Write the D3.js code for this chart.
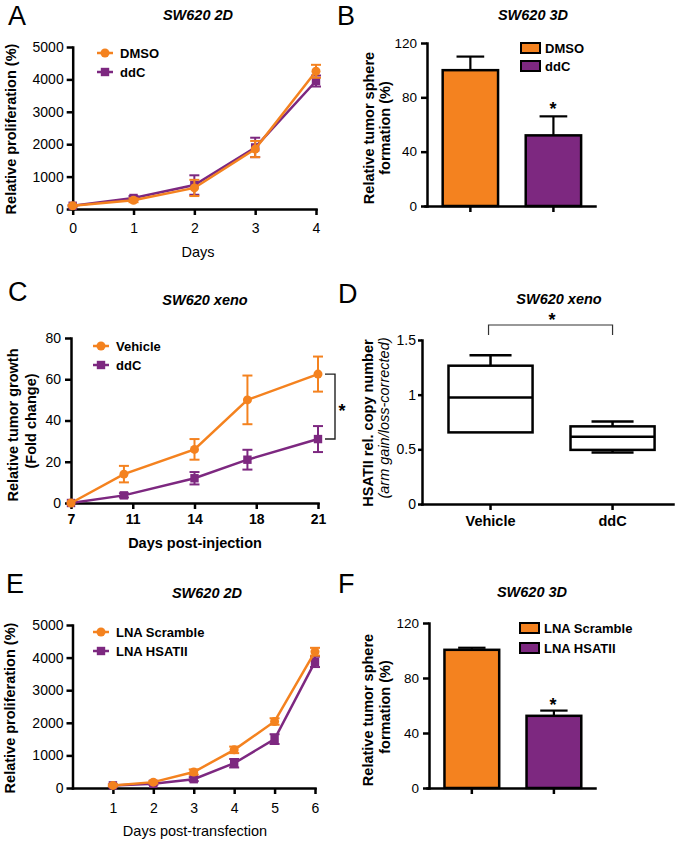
<!DOCTYPE html>
<html><head><meta charset="utf-8">
<script src="https://cdn.jsdelivr.net/npm/d3@7"></script>
<style>body{margin:0;background:#fff} svg text{font-family:"Liberation Sans",Arial,Helvetica,sans-serif}</style>
</head><body><svg id="c" width="678" height="842"></svg>
<script>
// ---------- DATA ----------
// Panel A
const daysA = [0, 1, 2, 3, 4];
const dmsoA = [100, 270, 650, 1850, 4250];
const dmsoAErr = [20, 60, 250, 250, 200];
const ddcA = [100, 340, 740, 1900, 3950];
const ddcAErr = [20, 60, 300, 300, 170];
const yTicksA = [0, 1000, 2000, 3000, 4000, 5000];
// Panel B
const groupsB = ["DMSO", "ddC"];
const meansB = [100, 52];
const errB = [10, 14];
const yTicksB = [0, 40, 80, 120];
// Panel C
const daysC = [7, 10, 14, 17, 21];
const vehicleC = [0, 14, 26, 50, 62.5];
const vehicleCErr = [0, 4, 5, 11.8, 8.5];
const ddcC = [0, 3.7, 12, 21, 31];
const ddcCErr = [0, 1, 3, 4.8, 6.3];
const xTicksC = [7, 10.5, 14, 17.5, 21];
const xTickLabelsC = ["7", "11", "14", "18", "21"];
const yTicksC = [0, 20, 40, 60, 80];
// Panel D (box plot: min, q1, median, q3, max)
const groupsD = ["Vehicle", "ddC"];
const minD = [0.655, 0.47];
const q1D = [0.655, 0.495];
const medD = [0.975, 0.615];
const q3D = [1.265, 0.71];
const maxD = [1.36, 0.755];
const yTicksD = [0, 0.5, 1, 1.5];
const yTickLabelsD = ["0", "0.5", "1", "1.5"];
// Panel E
const daysE = [1, 2, 3, 4, 5, 6];
const scrambleE = [80, 180, 490, 1170, 2040, 4180];
const scrambleEErr = [30, 40, 80, 100, 100, 120];
const hsatE = [80, 130, 270, 760, 1500, 3870];
const hsatEErr = [30, 30, 60, 130, 150, 160];
const yTicksE = [0, 1000, 2000, 3000, 4000, 5000];
// Panel F
const groupsF = ["LNA Scramble", "LNA HSATII"];
const meansF = [100.5, 52.5];
const errF = [1.5, 3.8];
const yTicksF = [0, 40, 80, 120];

// ---------- STYLE ----------
const ORANGE = "#F4821F", PURPLE = "#7D2880";
const FONT = '"Liberation Sans", Arial, Helvetica, sans-serif';
const svg = d3.select("#c");
svg.append("rect").attr("width", 678).attr("height", 842).attr("fill", "#fff");

function styleAxis(g, opts = {}) {
  g.attr("font-family", FONT).attr("font-size", opts.fs || 13.5);
  g.select(".domain").attr("stroke", "#000").attr("stroke-width", 2.5).attr("stroke-linecap", "square");
  g.selectAll(".tick line").attr("stroke", "#000").attr("stroke-width", 2.5);
  g.selectAll(".tick text").attr("fill", "#000").attr("font-weight", opts.bold ? "bold" : "normal");
}

function text(x, y, s, o = {}) {
  const t = svg.append("text").attr("x", x).attr("y", y).text(s)
    .attr("font-size", o.fs || 14).attr("font-weight", o.fw || "normal")
    .attr("font-style", o.fst || "normal").attr("text-anchor", o.anchor || "start").attr("fill", "#000");
  if (o.light) t.attr("font-weight", 300);
  return t;
}
function vtext(x, y, s, o = {}) {
  return svg.append("text").attr("transform", `translate(${x},${y}) rotate(-90)`).text(s)
    .attr("font-size", o.fs || 14.5).attr("font-weight", o.fw || "bold")
    .attr("font-style", o.fst || "normal").attr("text-anchor", "middle").attr("fill", "#000");
}

function lineSeries(x, y, xs, vals, errs, color, marker) {
  const g = svg.append("g");
  const pts = xs.map((d, i) => ({ x: d, v: vals[i], e: errs[i] }));
  g.append("path").datum(pts).attr("fill", "none").attr("stroke", color).attr("stroke-width", 2.5)
    .attr("d", d3.line().x(d => x(d.x)).y(d => y(d.v)));
  pts.forEach(p => {
    if (p.e > 0) {
      const cx = x(p.x), t = y(p.v + p.e), b = y(p.v - p.e);
      g.append("line").attr("x1", cx).attr("x2", cx).attr("y1", t).attr("y2", b).attr("stroke", color).attr("stroke-width", 2);
      [t, b].forEach(yy => g.append("line").attr("x1", cx - 5).attr("x2", cx + 5).attr("y1", yy).attr("y2", yy).attr("stroke", color).attr("stroke-width", 2));
    }
    drawMarker(g, x(p.x), y(p.v), color, marker);
  });
}
function drawMarker(g, cx, cy, color, marker) {
  if (marker === "circle") g.append("circle").attr("cx", cx).attr("cy", cy).attr("r", 4.5).attr("fill", color);
  else g.append("rect").attr("x", cx - 4.2).attr("y", cy - 4.2).attr("width", 8.4).attr("height", 8.4).attr("fill", color);
}
function lineLegend(x0, items) {
  items.forEach(it => {
    svg.append("line").attr("x1", x0).attr("x2", x0 + 16).attr("y1", it.y).attr("y2", it.y).attr("stroke", it.color).attr("stroke-width", 2.5);
    drawMarker(svg, x0 + 8, it.y, it.color, it.marker);
    text(x0 + 23, it.y + 4.7, it.label, { fs: 13, fw: "bold" });
  });
}
function barLegend(x0, items) {
  items.forEach(it => {
    svg.append("rect").attr("x", x0).attr("y", it.y - 5).attr("width", 19).attr("height", 10)
      .attr("fill", it.color).attr("stroke", "#000").attr("stroke-width", 2);
    text(x0 + 24, it.y + 4.7, it.label, { fs: 13, fw: "bold" });
  });
}
function asterisk(cx, cy, fs = 18) { text(cx, cy + 9, "*", { fs, fw: "bold", anchor: "middle" }); }
function panelLetter(x, y, s) { text(x, y, s, { fs: 27, light: true }); }
function title(cx, y, s) { text(cx, y, s, { fs: 14.5, fw: "bold", fst: "italic", anchor: "middle" }); }

function barChart(groups, means, errs, yTicks, xr, yr, colors) {
  const x = d3.scaleBand().domain(groups).range(xr).paddingInner(0.333).paddingOuter(0.19).align(0.56);
  const y = d3.scaleLinear().domain([0, 120]).range(yr);
  const bw = x.bandwidth();
  groups.forEach((g, i) => {
    const cx = x(g) + bw / 2;
    svg.append("line").attr("x1", cx).attr("x2", cx).attr("y1", y(means[i])).attr("y2", y(means[i] + errs[i])).attr("stroke", "#000").attr("stroke-width", 2.2);
    svg.append("line").attr("x1", cx - bw / 4).attr("x2", cx + bw / 4).attr("y1", y(means[i] + errs[i])).attr("y2", y(means[i] + errs[i])).attr("stroke", "#000").attr("stroke-width", 2.2);
    svg.append("rect").attr("x", x(g)).attr("y", y(means[i])).attr("width", bw).attr("height", y(0) - y(means[i]))
      .attr("fill", colors[i]).attr("stroke", "#000").attr("stroke-width", 2.5);
  });
  svg.append("g").attr("transform", `translate(0,${yr[0]})`)
    .call(d3.axisBottom(x).tickSizeInner(6).tickSizeOuter(0).tickFormat(""))
    .call(g => styleAxis(g));
  svg.append("g").attr("transform", `translate(${xr[0] + 2},0)`)
    .call(d3.axisLeft(y).tickValues(yTicks).tickSizeInner(6).tickSizeOuter(0).tickPadding(4))
    .call(g => styleAxis(g));
  return { x, y };
}

// ---------- PANEL A ----------
{
  const x = d3.scaleLinear().domain([0, 4]).range([72.7, 316]);
  const y = d3.scaleLinear().domain([0, 5000]).range([209, 47]);
  svg.append("g").attr("transform", "translate(0,209)")
    .call(d3.axisBottom(x).tickValues(daysA).tickFormat(d3.format("d")).tickSizeInner(6).tickSizeOuter(0).tickPadding(8))
    .call(g => styleAxis(g, { fs: 14 }));
  svg.append("g").attr("transform", "translate(72.7,0)")
    .call(d3.axisLeft(y).tickValues(yTicksA).tickFormat(d3.format("d")).tickSizeInner(6).tickSizeOuter(0).tickPadding(3))
    .call(g => styleAxis(g, { fs: 14 }));
  lineSeries(x, y, daysA, ddcA, ddcAErr, PURPLE, "square");
  lineSeries(x, y, daysA, dmsoA, dmsoAErr, ORANGE, "circle");
  lineLegend(97, [{ y: 53, color: ORANGE, marker: "circle", label: "DMSO" }, { y: 72, color: PURPLE, marker: "square", label: "ddC" }]);
  vtext(16, 129, "Relative proliferation (%)");
  text(198, 257, "Days", { fs: 14.5, anchor: "middle" });
  title(198, 20, "SW620 2D");
  panelLetter(8, 25, "A");
}

// ---------- PANEL B ----------
{
  barChart(groupsB, meansB, errB, yTicksB, [425, 595], [206, 43], [ORANGE, PURPLE]);
  barLegend(521, [{ y: 48, color: ORANGE, label: "DMSO" }, { y: 66, color: PURPLE, label: "ddC" }]);
  asterisk(553, 106);
  vtext(374, 128, "Relative tumor sphere");
  vtext(390, 128, "formation (%)");
  title(533, 20, "SW620 3D");
  panelLetter(337, 25, "B");
}

// ---------- PANEL C ----------
{
  const x = d3.scaleLinear().domain([7, 21]).range([71, 318]);
  const y = d3.scaleLinear().domain([0, 80]).range([503, 338]);
  svg.append("g").attr("transform", "translate(0,503)")
    .call(d3.axisBottom(x).tickValues(xTicksC).tickFormat((d, i) => xTickLabelsC[i]).tickSizeInner(6).tickSizeOuter(0).tickPadding(5))
    .call(g => styleAxis(g, { fs: 14, bold: true }));
  svg.append("g").attr("transform", "translate(71,0)")
    .call(d3.axisLeft(y).tickValues(yTicksC).tickSizeInner(6).tickSizeOuter(0).tickPadding(4))
    .call(g => styleAxis(g, { fs: 14 }));
  lineSeries(x, y, daysC, ddcC, ddcCErr, PURPLE, "square");
  lineSeries(x, y, daysC, vehicleC, vehicleCErr, ORANGE, "circle");
  lineLegend(93, [{ y: 346, color: ORANGE, marker: "circle", label: "Vehicle" }, { y: 365, color: PURPLE, marker: "square", label: "ddC" }]);
  // significance bracket
  svg.append("path").attr("d", `M325,${y(62.5)}H335V${y(31)}H325`).attr("fill", "none").attr("stroke", "#222").attr("stroke-width", 1.4);
  asterisk(342, 408);
  vtext(18, 425, "Relative tumor growth");
  vtext(36, 421, "(Fold change)");
  text(195, 548, "Days post-injection", { fs: 14.5, fw: "bold", anchor: "middle" });
  title(205, 305, "SW620 xeno");
  panelLetter(8, 301, "C");
}

// ---------- PANEL D ----------
{
  const x = d3.scaleBand().domain(groupsD).range([422, 673]).paddingInner(0.311).paddingOuter(0.184).align(0.59);
  const y = d3.scaleLinear().domain([0, 1.5]).range([504, 340]);
  const bw = x.bandwidth();
  groupsD.forEach((g, i) => {
    const cx = x(g) + bw / 2;
    const sw = 2.5;
    // whiskers
    [[q3D[i], maxD[i]], [q1D[i], minD[i]]].forEach(([a, b]) => {
      if (Math.abs(a - b) > 1e-6) {
        svg.append("line").attr("x1", cx).attr("x2", cx).attr("y1", y(a)).attr("y2", y(b)).attr("stroke", "#000").attr("stroke-width", sw);
        svg.append("line").attr("x1", cx - bw / 4).attr("x2", cx + bw / 4).attr("y1", y(b)).attr("y2", y(b)).attr("stroke", "#000").attr("stroke-width", sw);
      }
    });
    svg.append("rect").attr("x", x(g)).attr("y", y(q3D[i])).attr("width", bw).attr("height", y(q1D[i]) - y(q3D[i]))
      .attr("fill", "#fff").attr("stroke", "#000").attr("stroke-width", sw);
    svg.append("line").attr("x1", x(g)).attr("x2", x(g) + bw).attr("y1", y(medD[i])).attr("y2", y(medD[i])).attr("stroke", "#000").attr("stroke-width", sw);
  });
  svg.append("g").attr("transform", "translate(0,504)")
    .call(d3.axisBottom(x).tickSizeInner(6).tickSizeOuter(0).tickPadding(6))
    .call(g => styleAxis(g, { fs: 14.5, bold: true }));
  svg.append("g").attr("transform", "translate(422,0)")
    .call(d3.axisLeft(y).tickValues(yTicksD).tickFormat((d, i) => yTickLabelsD[i]).tickSizeInner(4).tickSizeOuter(0).tickPadding(2))
    .call(g => styleAxis(g, { fs: 14 }));
  const c0 = x(groupsD[0]) + bw / 2 - 2, c1 = x(groupsD[1]) + bw / 2;
  svg.append("path").attr("d", `M${c0},335V325H${c1}V335`).attr("fill", "none").attr("stroke", "#333").attr("stroke-width", 1.2);
  asterisk(552, 317);
  vtext(373, 423, "HSATII  rel. copy number");
  vtext(389, 418, "(arm gain/loss-corrected)", { fw: "normal", fst: "italic", fs: 14.5 });
  title(559, 304, "SW620 xeno");
  panelLetter(338, 303, "D");
}

// ---------- PANEL E ----------
{
  const x = d3.scaleLinear().domain([0, 6]).range([72.5, 315]);
  const y = d3.scaleLinear().domain([0, 5000]).range([788, 625]);
  svg.append("g").attr("transform", "translate(0,788)")
    .call(d3.axisBottom(x).tickValues(daysE).tickFormat(d3.format("d")).tickSizeInner(6).tickSizeOuter(0).tickPadding(9))
    .call(g => styleAxis(g, { fs: 14 }));
  svg.append("g").attr("transform", "translate(72.5,0)")
    .call(d3.axisLeft(y).tickValues(yTicksE).tickFormat(d3.format("d")).tickSizeInner(6).tickSizeOuter(0).tickPadding(3))
    .call(g => styleAxis(g, { fs: 14 }));
  lineSeries(x, y, daysE, hsatE, hsatEErr, PURPLE, "square");
  lineSeries(x, y, daysE, scrambleE, scrambleEErr, ORANGE, "circle");
  lineLegend(93, [{ y: 632, color: ORANGE, marker: "circle", label: "LNA Scramble" }, { y: 651, color: PURPLE, marker: "square", label: "LNA HSATII" }]);
  vtext(15, 708, "Relative proliferation (%)");
  text(195, 836, "Days post-transfection", { fs: 14.5, anchor: "middle" });
  title(207, 598, "SW620 2D");
  panelLetter(6, 593, "E");
}

// ---------- PANEL F ----------
{
  barChart(groupsF, meansF, errF, yTicksF, [427, 595], [788, 623], [ORANGE, PURPLE]);
  barLegend(520, [{ y: 628, color: ORANGE, label: "LNA Scramble" }, { y: 648, color: PURPLE, label: "LNA HSATII" }]);
  asterisk(553, 702);
  vtext(373, 710, "Relative tumor sphere");
  vtext(390, 707, "formation (%)");
  title(532, 597, "SW620 3D");
  panelLetter(338, 593, "F");
}
</script></body></html>
